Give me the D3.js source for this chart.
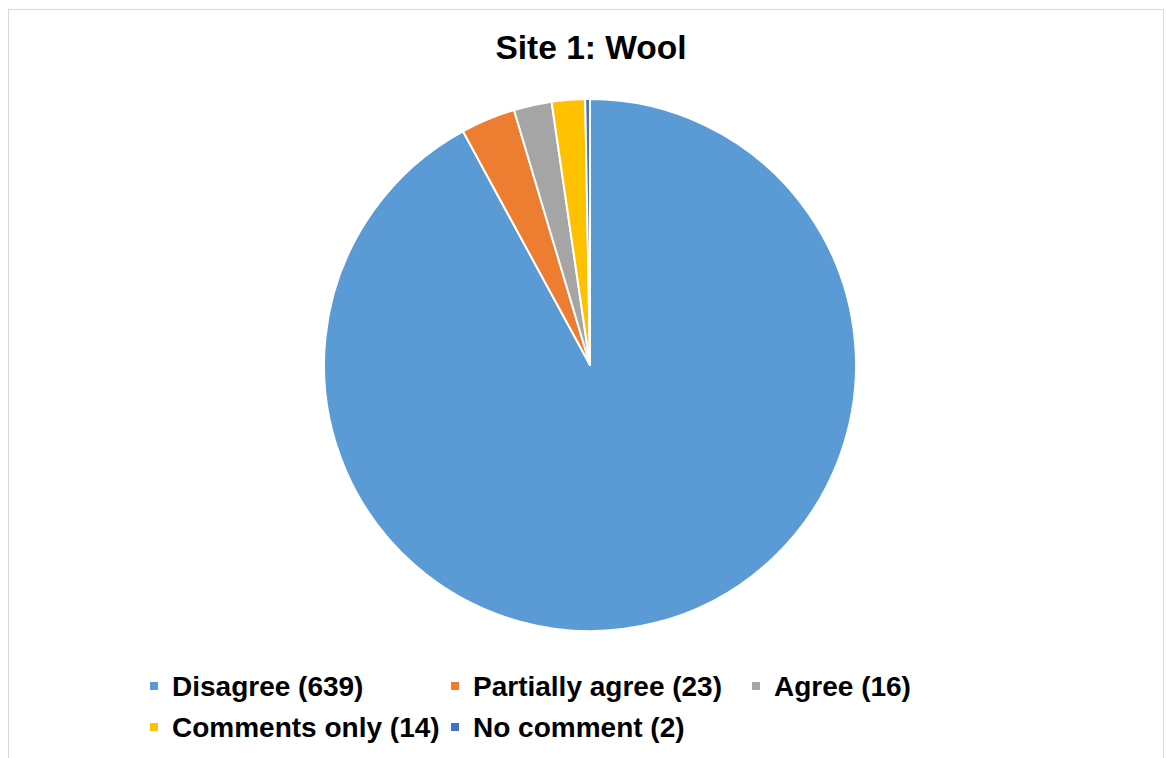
<!DOCTYPE html>
<html>
<head>
<meta charset="utf-8">
<script src="https://cdn.jsdelivr.net/npm/d3@7"></script>
<style>
  html, body { margin: 0; padding: 0; background: #fff; }
  svg { display: block; }
</style>
</head>
<body>
<svg id="chart" width="1166" height="758"></svg>
<script>
const categories = ["Disagree", "Partially agree", "Agree", "Comments only", "No comment"];
const values = [639, 23, 16, 14, 2];
const colors = ["#5B9BD5", "#ED7D31", "#A5A5A5", "#FFC000", "#4472C4"];
const titleText = "Site 1: Wool";

const svg = d3.select("#chart");
const W = 1166, H = 758;
const font = "'Liberation Sans', Arial, sans-serif";

// chart area border
svg.append("rect")
  .attr("x", 8.5).attr("y", 9.5)
  .attr("width", 1155).attr("height", 760)
  .attr("fill", "#fff")
  .attr("stroke", "#d9d9d9").attr("stroke-width", 1);

// title
svg.append("text")
  .attr("x", 591).attr("y", 59)
  .attr("text-anchor", "middle")
  .attr("font-family", font)
  .attr("font-weight", "bold")
  .attr("font-size", 33.5)
  .attr("fill", "#000")
  .text(titleText);

// pie
const cx = 590, cy = 365, r = 266;
const data = categories.map((c, i) => ({ name: c, value: values[i], color: colors[i] }));
const pie = d3.pie().value(d => d.value).sort(null);
const arc = d3.arc().innerRadius(0).outerRadius(r);

const g = svg.append("g").attr("transform", `translate(${cx},${cy})`);
g.selectAll("path")
  .data(pie(data))
  .join("path")
  .attr("d", arc)
  .attr("fill", d => d.data.color)
  .attr("stroke", "#fff")
  .attr("stroke-width", 2)
  .attr("stroke-linejoin", "round");

// legend: grid of equal columns
const colX = d3.scaleLinear().domain([0, 1]).range([150, 451]);
const rowY = d3.scaleLinear().domain([0, 1]).range([686, 727]);
const perRow = 3;
const leg = svg.append("g");
data.forEach((d, i) => {
  const col = i % perRow, row = Math.floor(i / perRow);
  const x = colX(col), y = rowY(row);
  leg.append("rect")
    .attr("x", x).attr("y", y - 4)
    .attr("width", 8).attr("height", 8)
    .attr("fill", d.color);
  leg.append("text")
    .attr("x", x + 22).attr("y", y)
    .attr("dy", "0.36em")
    .attr("font-family", font)
    .attr("font-weight", "bold")
    .attr("font-size", 28)
    .attr("fill", "#000")
    .text(`${d.name} (${d.value})`);
});
</script>
</body>
</html>
